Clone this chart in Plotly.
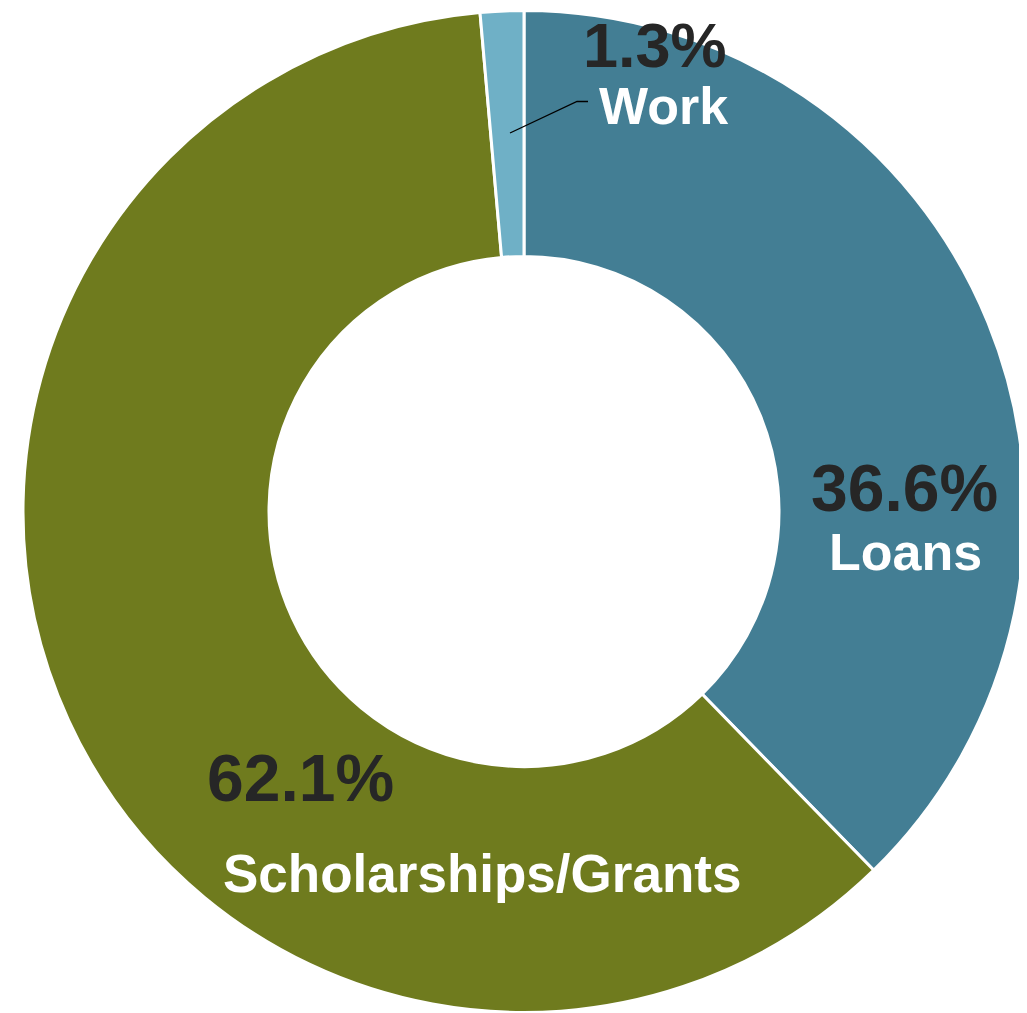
import plotly.graph_objects as go

W, H = 1027, 1013
OFF = 8  # page body margin in the browser

categories = ["Loans", "Scholarships/Grants", "Work"]
slice_share = [37.7, 60.9, 1.4]
# percentage labels as printed on the chart
pct_labels = ["36.6%", "62.1%", "1.3%"]
colors = ["#437E94", "#6F7B1E", "#6FB0C6"]


def px(x):
    return (x - OFF) / W


def py(y):
    return 1 - (y - OFF) / H


cx, cy, R = 524, 511.5, 501

fig = go.Figure()
fig.add_trace(go.Pie(
    labels=categories,
    values=slice_share,
    sort=False,
    direction="clockwise",
    rotation=0,
    hole=0.509,
    textinfo="none",
    hoverinfo="label+percent",
    marker=dict(colors=colors, line=dict(color="white", width=3)),
    domain=dict(x=[px(cx - R), px(cx + R)],
                y=[py(cy + R), py(cy - R)]),
    showlegend=False,
))

# label centers in screen pixels: (pct center), (name center), name font size
label_pos = {
    "Loans": ((904, 485), (905, 550), 52),
    "Scholarships/Grants": ((300, 775), (482, 871), 53),
    "Work": ((655, None), (663, 104), 52),
}

font_family = "Liberation Sans, Arial, sans-serif"
annotations = []
for cat, pct in zip(categories, pct_labels):
    (pxc, pyc), (nxc, nyc), nsize = label_pos[cat]
    if pyc is None:
        annotations.append(dict(
            x=px(pxc), y=1, xref="paper", yref="paper",
            text="<b>%s</b>" % pct, showarrow=False,
            xanchor="center", yanchor="top", yshift=0,
            font=dict(family=font_family, size=63, color="#262626"),
        ))
    else:
        annotations.append(dict(
            x=px(pxc), y=py(pyc + 3), xref="paper", yref="paper",
            text="<b>%s</b>" % pct, showarrow=False,
            xanchor="center", yanchor="middle",
            font=dict(family=font_family, size=66, color="#262626"),
        ))
    annotations.append(dict(
        x=px(nxc), y=py(nyc + 2), xref="paper", yref="paper",
        text="<b>%s</b>" % cat, showarrow=False,
        xanchor="center", yanchor="middle",
        font=dict(family=font_family, size=nsize, color="white"),
    ))

# leader line for Work
shapes = [dict(
    type="path", xref="paper", yref="paper",
    path="M %f,%f L %f,%f L %f,%f" % (px(510), py(133), px(577), py(101.5), px(588), py(101.5)),
    line=dict(color="black", width=1.3),
)]

fig.update_layout(
    width=W, height=H,
    margin=dict(l=0, r=0, t=0, b=0),
    paper_bgcolor="white", plot_bgcolor="white",
    annotations=annotations,
    shapes=shapes,
)

fig.write_html("out.html")
